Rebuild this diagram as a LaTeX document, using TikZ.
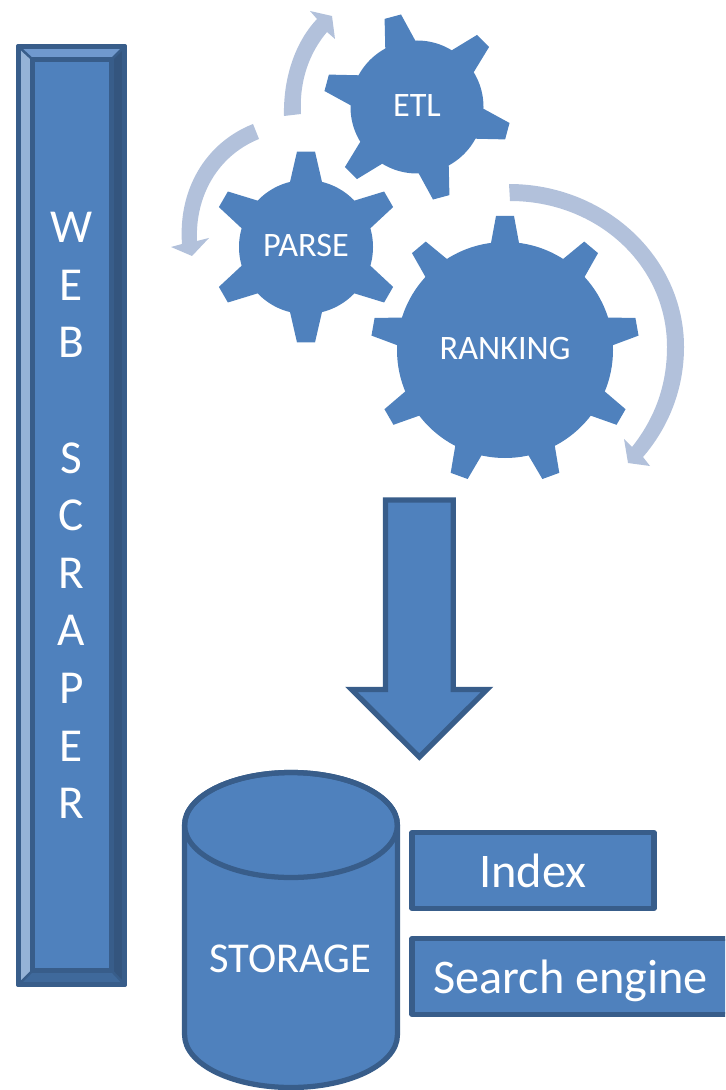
\documentclass[tikz,border=0pt]{standalone}
\usepackage{fontspec}
\setmainfont{Carlito}
\usetikzlibrary{shapes}
\usetikzlibrary{positioning}
\definecolor{shapeblue}{HTML}{4F81BD}
\definecolor{lineblue}{HTML}{385D8A}
\definecolor{swirlblue}{HTML}{B2C1DB}
\definecolor{bevelleft}{HTML}{95B3D7}
\definecolor{beveltop}{HTML}{7099CE}
\definecolor{bevelright}{HTML}{34557E}
\definecolor{bevelbottom}{HTML}{3F699B}
\newcommand{\gearteeth}[6]{
	\foreach \a in {#2}
	\fill[shapeblue,shift={(#1)},rotate=\a] (#3-8,-#6) -- (#3,-#6) -- (#4,-#5) -- (#4,#5) -- (#3,#6) -- (#3-8,#6) -- cycle;
}
\begin{document}
\begin{tikzpicture}[x=0.2mm,y=-0.2mm,
	gear node/.style={circle,fill=shapeblue,text=white,inner sep=0pt,font=\fontsize{19.5}{23}\selectfont,text height=12.5pt,text depth=2pt},
	box node/.style={rectangle,draw=lineblue,fill=shapeblue,text=white,line width=1.05mm,line join=round,align=center,outer sep=0pt},
	swirl/.style={fill=swirlblue},
	edge line/.style={draw=lineblue,line width=1.05mm,line join=round}]

	\path[use as bounding box,clip] (0,0) rectangle (725,1090);

	% bar on the left
	\node[box node,minimum width=21.2mm,minimum height=187.6mm,font=\fontsize{26.9}{32.8}\selectfont] at (71.5,515.5) (scraper) {W\\E\\B\\ \\S\\C\\R\\A\\P\\E\\R};
	\coordinate (nw) at ([shift={(14,13)}]scraper.north west);
	\coordinate (ne) at ([shift={(-13,13)}]scraper.north east);
	\coordinate (sw) at ([shift={(14,-14)}]scraper.south west);
	\coordinate (se) at ([shift={(-13,-14)}]scraper.south east);
	\fill[beveltop] (scraper.north west) -- (scraper.north east) -- (ne) -- (nw) -- cycle;
	\fill[bevelleft] (scraper.north west) -- (scraper.south west) -- (sw) -- (nw) -- cycle;
	\fill[bevelright] (scraper.north east) -- (scraper.south east) -- (se) -- (ne) -- cycle;
	\fill[bevelbottom] (scraper.south west) -- (scraper.south east) -- (se) -- (sw) -- cycle;
	\draw[edge line] (scraper.north west) rectangle (scraper.south east);
	\draw[edge line] (nw) rectangle (se);
	\draw[edge line,line width=0.5mm] (scraper.north west) -- (nw) (scraper.north east) -- (ne) (scraper.south west) -- (sw) (scraper.south east) -- (se);

	% gears
	\node[gear node,minimum size=26.8mm] at (306,247) (parse) {PARSE};
	\node[gear node,minimum size=26.6mm] at (417,107) (etl) {ETL};
	\node[gear node,minimum size=43.2mm] at (505,350) (ranking) {RANKING};
	\gearteeth{parse}{30,90,150,210,270,330}{65}{95.4}{9}{16}
	\gearteeth{etl}{45,105,165,225,285,345}{64.7}{93.5}{8.5}{15.5}
	\gearteeth{ranking}{10,50,90,130,170,210,250,290,330}{107}{134}{9}{14}

	% arrows round the gears
	\fill[swirl] (284,116) .. controls (283,75) and (297,40) .. (317,19) -- (310,11) -- (332,16) -- (335,39) -- (327,32) .. controls (310,52) and (299,80) .. (301,114) -- cycle;
	\fill[swirl] (253,124) .. controls (205,143) and (178,190) .. (182,244) -- (171,247) -- (192,256) -- (209,238) -- (197,241) .. controls (195,197) and (217,156) .. (259,139) -- cycle;
	\fill[swirl] (509,184) .. controls (605,184) and (684,257) .. (684,347) .. controls (684,390) and (668,428) .. (643,457) -- (650,466) -- (628,463) -- (624,439) -- (632,447) .. controls (655,418) and (667,385) .. (667,347) .. controls (667,265) and (597,201) .. (510,201) -- cycle;

	% big arrow
	\draw[edge line,fill=shapeblue,miter limit=10,line join=miter] (385.4,500) -- (453.3,500) -- (453.3,689.5) -- (487,689.5) -- (419.3,757) -- (351.5,689.5) -- (385.4,689.5) -- cycle;

	% storage
	\draw[edge line,fill=shapeblue] (184.6,825) -- (184.6,1035) arc[start angle=180,end angle=0,x radius=106.4,y radius=52.5] -- (397.4,825) arc[start angle=0,end angle=-180,x radius=106.4,y radius=52.5] -- cycle;
	\draw[edge line] (291,825) ellipse [x radius=106.4,y radius=52.5];
	\node[text=white,font=\fontsize{24.2}{28}\selectfont,inner sep=0pt,text height=15.6pt,text depth=0pt] at (290.5,959) (storage) {STORAGE};

	\node[box node,minimum width=48.4mm,minimum height=15.1mm,font=\fontsize{27.5}{32.8}\selectfont,text height=19.2pt,text depth=0pt] at (533,870.5) (index) {Index};
	\node[box node,minimum width=63.4mm,minimum height=15.1mm,font=\fontsize{27.5}{32.8}\selectfont,text height=19.2pt,text depth=0pt] at (570.5,976.5) (search) {Search engine};

\end{tikzpicture}
\end{document}
